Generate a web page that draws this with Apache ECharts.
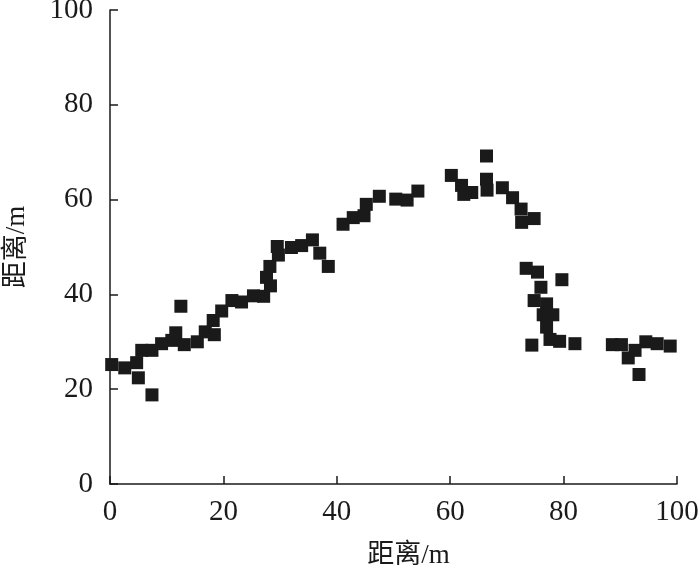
<!DOCTYPE html>
<html>
<head>
<meta charset="utf-8">
<script src="https://cdn.jsdelivr.net/npm/echarts@6/dist/echarts.min.js"></script>
<style>
  html, body { margin: 0; padding: 0; background: #fff; }
  #chart { width: 700px; height: 576px; }
</style>
</head>
<body>
<div id="chart"></div>
<script>
// 距离 (x) / 距离 (y)
const xValues = [
    0.3, 2.6, 4.7, 5.0, 5.6, 7.4, 7.4, 9.1, 10.9, 11.6, 12.5, 13.1, 15.4, 16.8,
    18.4, 18.2, 19.7, 21.5, 23.2, 25.3, 27.1, 28.3, 27.6, 28.2, 29.7, 29.5,
    32.0, 33.8, 35.7, 37.0, 38.5, 41.1, 42.9, 44.8, 45.2, 47.5, 50.4, 52.4,
    54.3, 60.2, 62.0, 62.4, 63.8, 66.4, 66.4, 66.5, 69.2, 71.0, 72.5, 72.6,
    74.8, 73.4, 75.4, 79.7, 76.0, 74.8, 77.0, 76.4, 78.1, 77.0, 77.6, 79.3,
    74.4, 82.0, 88.6, 90.2, 91.4, 92.6, 93.3, 94.5, 96.5, 98.8,
];
const yValues = [
    25.2, 24.5, 25.6, 22.4, 28.2, 28.2, 18.8, 29.6, 30.3, 31.9, 37.5, 29.4,
    30.0, 32.1, 31.5, 34.5, 36.5, 38.7, 38.4, 39.7, 39.6, 41.8, 43.6, 45.9,
    48.3, 50.1, 49.9, 50.3, 51.5, 48.7, 45.9, 54.8, 56.2, 56.6, 59.0, 60.7,
    60.1, 59.9, 61.8, 65.1, 63.0, 61.1, 61.5, 69.2, 64.3, 62.0, 62.5, 60.4,
    58.0, 55.2, 56.0, 45.5, 44.7, 43.1, 41.5, 38.7, 38.0, 35.7, 35.7, 33.1,
    30.5, 30.1, 29.3, 29.6, 29.4, 29.4, 26.6, 28.2, 23.1, 30.0, 29.6, 29.1,
];
const axisTicks = [0, 20, 40, 60, 80, 100];

const points = xValues.map((x, i) => [x, yValues[i]]);
const font = "'Liberation Serif', 'Noto Sans CJK SC', serif";
const ink = "#1a1a1a";

const axisCommon = {
    type: "value",
    min: axisTicks[0],
    max: axisTicks[axisTicks.length - 1],
    interval: 20,
    splitLine: { show: false },
    axisLine: { show: true, lineStyle: { color: ink, width: 1.5 } },
    axisTick: { show: true, inside: true, length: 8, lineStyle: { color: ink, width: 1.5 } },
    axisLabel: { color: ink, fontFamily: font, fontSize: 29 },
    nameLocation: "middle",
    nameTextStyle: { color: ink, fontFamily: font, fontSize: 27 },
};

const chart = echarts.init(document.getElementById("chart"));
chart.setOption({
    animation: false,
    grid: { left: 110, right: 23, top: 10, bottom: 92, outerBoundsMode: "none" },
    xAxis: Object.assign({}, axisCommon, {
        name: "距离/m",
        nameGap: 58,
        axisLabel: Object.assign({}, axisCommon.axisLabel, { margin: 14 }),
        nameTextStyle: Object.assign({}, axisCommon.nameTextStyle, { padding: [0, 0, 0, 30] }),
    }),
    yAxis: Object.assign({}, axisCommon, {
        name: "距离/m",
        nameGap: 80,
        axisLabel: Object.assign({}, axisCommon.axisLabel, { margin: 17 }),
    }),
    series: [
        {
            type: "scatter",
            symbol: "rect",
            symbolSize: 13,
            itemStyle: { color: ink, opacity: 1 },
            data: points,
        },
    ],
});
</script>
</body>
</html>
